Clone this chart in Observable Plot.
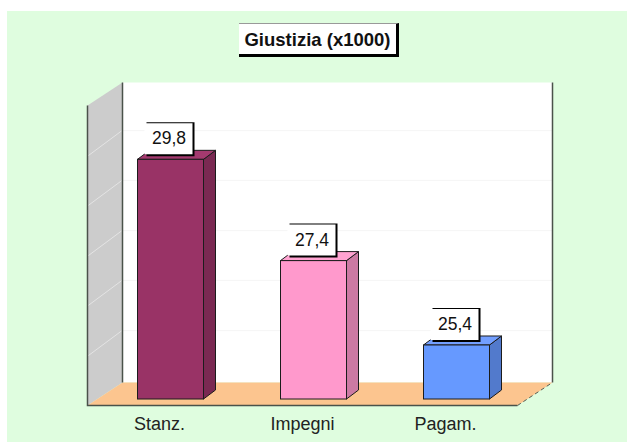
<!DOCTYPE html>
<html><head><meta charset="utf-8">
<script src="https://cdn.jsdelivr.net/npm/d3@7"></script>
<script src="https://cdn.jsdelivr.net/npm/@observablehq/plot@0.6"></script>
<style>
html,body{margin:0;padding:0;background:#fff;}
#chart{position:relative;width:627px;height:442px;overflow:hidden;background:#fff;}
#panel{position:absolute;left:7px;top:11px;right:0;bottom:0;background:#dffddf;}
#title{position:absolute;left:239px;top:23px;width:157px;height:30px;background:#fff;border-top:1px solid #999;border-right:3px solid #000;border-bottom:3px solid #000;
font:bold 18.5px "Liberation Sans",Arial,sans-serif;color:#111;text-align:center;line-height:31px;white-space:nowrap;}
</style></head><body>
<div id="chart"><div id="panel"></div><div id="title">Giustizia (x1000)</div></div>
<script>
const categories = ["Stanz.", "Impegni", "Pagam."];
const values = [29.8, 27.4, 25.4];
const labels = ["29,8", "27,4", "25,4"];
const frontColors = ["#993366", "#ff99cc", "#6699ff"];
const topColors = ["#a33a6f", "#ffa3d1", "#739fff"];
const sideColors = ["#7a2952", "#cc7aa3", "#527acc"];
const gridValues = [25.35, 26.54, 27.72, 28.91, 30.09];
const axisBase = 24.12;
const axisTop = 31.23;

const table = categories.map((c, i) => ({c, v: values[i], label: labels[i], front: frontColors[i], top: topColors[i], side: sideColors[i]}));

// depth of the 3D box (floor) and of each bar
const wallX = 35, wallY = -23, barX = 12, barY = -9, offX = 11.5, offY = -6;

// Render helper: turns each rect the mark draws into a path derived from its scaled box.
const shape = (fn) => (index, scales, vals, dims, ctx, next) => {
  const node = next(index, scales, vals, dims, ctx);
  const rects = node.tagName === "rect" ? [node] : Array.from(node.querySelectorAll("rect"));
  let out = node;
  for (const r of rects) {
    const x = +r.getAttribute("x") || 0, y = +r.getAttribute("y") || 0;
    const w = +r.getAttribute("width") || 0, h = +r.getAttribute("height") || 0;
    const p = ctx.document.createElementNS("http://www.w3.org/2000/svg", "path");
    for (const a of Array.from(r.attributes)) if (!["x","y","width","height"].includes(a.name)) p.setAttribute(a.name, a.value);
    p.setAttribute("d", fn(x, y, w, h));
    if (r === node) out = p; else r.replaceWith(p);
  }
  return out;
};
// same idea for the rules
const slanted = (fn) => (index, scales, vals, dims, ctx, next) => {
  const node = next(index, scales, vals, dims, ctx);
  for (const l of node.querySelectorAll("line")) {
    const [x1, y1, x2, y2] = fn(+l.getAttribute("x1"), +l.getAttribute("y1"), +l.getAttribute("x2"), +l.getAttribute("y2"));
    l.setAttribute("x1", x1); l.setAttribute("y1", y1); l.setAttribute("x2", x2); l.setAttribute("y2", y2);
  }
  return node;
};

const barFront = {x: "c", y1: () => axisBase, y2: "v", dx: offX, dy: offY};

const chart = Plot.plot({
  width: 627, height: 442,
  marginLeft: 87, marginRight: 110, marginTop: 105, marginBottom: 37,
  style: {background: "transparent", overflow: "visible"},
  x: {type: "band", domain: categories, paddingInner: 0.54, paddingOuter: 0.27, align: 0.5, label: null, tickSize: 0, tickPadding: 12},
  y: {domain: [axisBase, axisTop], axis: null, label: null},
  marks: [
    // back wall
    Plot.frame({fill: "#ffffff", stroke: "none", dx: wallX, dy: wallY}),
    Plot.ruleY(gridValues, {stroke: "#f5f5f5", strokeWidth: 1, dx: wallX, dy: wallY}),
    // left wall
    Plot.frame({fill: "#cccccc", stroke: "none", render: shape((x, y, w, h) =>
      `M${x},${y}L${x + wallX},${y + wallY}V${y + h + wallY}L${x},${y + h}Z`)}),
    Plot.ruleY(gridValues, {stroke: "#e4e4e4", strokeWidth: 1, render: slanted((x1, y1, x2, y2) => [x1, y1 + 3, x1 + wallX, y1 + wallY])}),
    // floor
    Plot.frame({fill: "#fcc58f", stroke: "none", render: shape((x, y, w, h) =>
      `M${x},${y + h}H${x + w}L${x + w + wallX},${y + h + wallY}H${x + wallX}Z`)}),
    // wall edges
    Plot.frame({fill: "none", stroke: "#4a524a", strokeWidth: 1.5, render: shape((x, y, w, h) =>
      `M${x},${y}V${y + h}H${x + w}M${x + wallX},${y + wallY}V${y + h + wallY}M${x + w + wallX},${y + wallY}V${y + h + wallY}`)}),
    Plot.frame({fill: "none", stroke: "#555f55", strokeWidth: 1, strokeDasharray: "4,3", render: shape((x, y, w, h) =>
      `M${x + w},${y + h}L${x + w + wallX},${y + h + wallY}`)}),
    // bars: side, top, front
    Plot.barY(table, {...barFront, fill: "side", stroke: "#1c1c1c", strokeWidth: 1, render: shape((x, y, w, h) =>
      `M${x + w},${y}L${x + w + barX},${y + barY}V${y + h + barY}L${x + w},${y + h}Z`)}),
    Plot.barY(table, {...barFront, fill: "top", stroke: "#1c1c1c", strokeWidth: 1, render: shape((x, y, w, h) =>
      `M${x},${y}L${x + barX},${y + barY}H${x + w + barX}L${x + w},${y}Z`)}),
    Plot.barY(table, {...barFront, fill: "front", stroke: "#1c1c1c", strokeWidth: 1}),
    // value label boxes
    Plot.barY(table, {x: "c", y1: "v", y2: "v", dx: offX, dy: offY, fill: "#000", render: shape((x, y, w, h) =>
      `M${x + w / 2 - 24},${y - 37}H${x + w / 2 + 24}V${y - 3}H${x + w / 2 - 24}Z`)}),
    Plot.barY(table, {x: "c", y1: "v", y2: "v", dx: offX, dy: offY, fill: "#fff", render: shape((x, y, w, h) =>
      `M${x + w / 2 - 26},${y - 36}H${x + w / 2 + 22}V${y - 5}H${x + w / 2 - 26}Z`)}),
    Plot.text(table, {x: "c", y: "v", text: "label", dx: offX - 2, dy: offY - 21, fontSize: 17.5, fill: "#111", fontFamily: "Liberation Sans"})
  ]
});
chart.style.fontFamily = "'Liberation Sans',Arial,sans-serif";
chart.style.fontSize = "18px";
chart.style.position = "absolute"; chart.style.left = "0"; chart.style.top = "0";
chart.querySelectorAll("[aria-label='x-axis tick label'] text, [aria-label='x-axis tick label']").forEach(n => {n.setAttribute("font-size", "18"); n.setAttribute("fill", "#222");});
const host = document.getElementById("chart");
host.insertBefore(chart, document.getElementById("title"));
</script>
</body></html>
